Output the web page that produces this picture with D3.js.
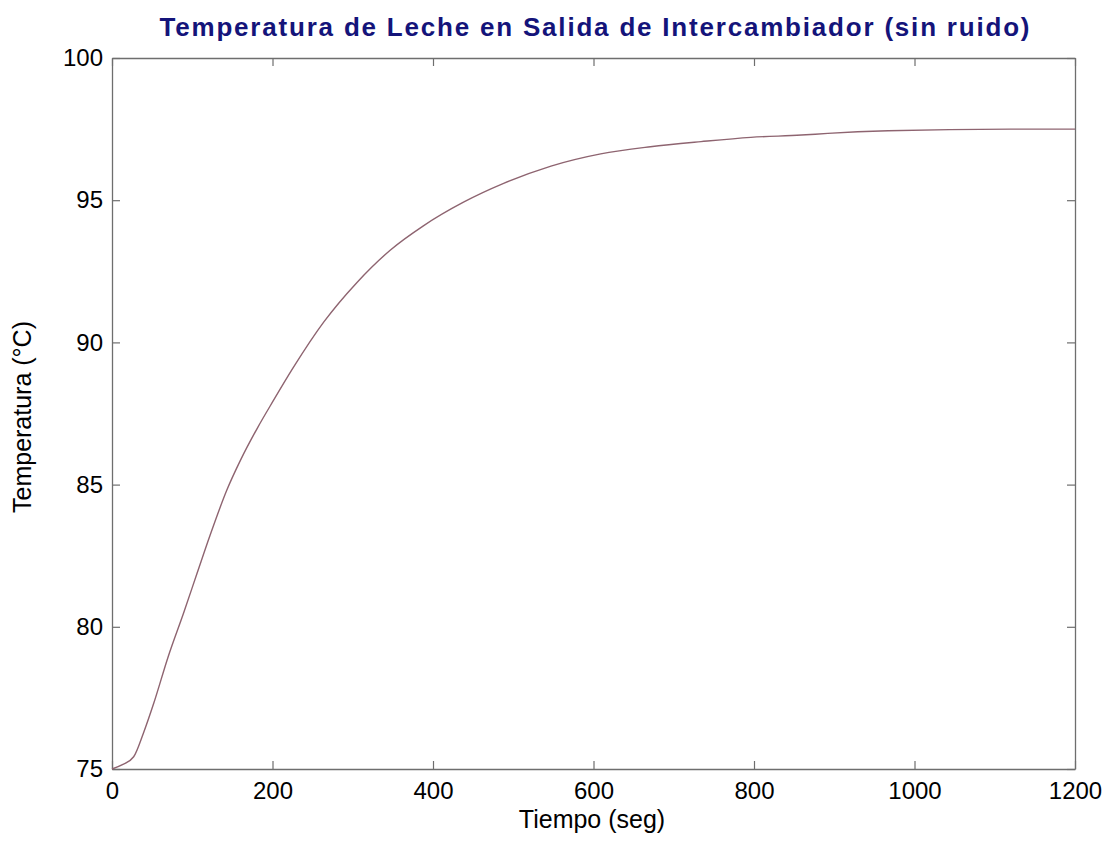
<!DOCTYPE html>
<html>
<head>
<meta charset="utf-8">
<script src="https://cdn.jsdelivr.net/npm/d3@7"></script>
<style>
  body { margin: 0; background: #fff; }
  svg text { font-family: Arial, "Liberation Sans", sans-serif; }
</style>
</head>
<body>
<div id="chart"></div>
<script>
"use strict";

/* ── Data ── */
const tiempo = [0, 13, 27, 39, 52, 70, 89, 106, 122, 143, 160, 181, 201, 226, 264,
                305, 347, 388, 438, 488, 547, 609, 671, 734, 796, 859, 892, 967, 1120, 1200];
const temperatura = [75, 75.15, 75.43, 76.25, 77.31, 78.95, 80.47, 81.88, 83.2, 84.8,
                     85.85, 86.98, 87.95, 89.12, 90.72, 92.1, 93.25, 94.1, 94.93, 95.59,
                     96.2, 96.63, 96.88, 97.06, 97.21, 97.29, 97.35, 97.44, 97.5, 97.5];
const xTicks = [0, 200, 400, 600, 800, 1000, 1200];
const yTicks = [75, 80, 85, 90, 95, 100];

/* ── Dimensions ── */
const W = 1111, H = 846;
const plot = { left: 112, right: 1075, top: 58, bottom: 769 };

const svg = d3.select("#chart").append("svg")
  .attr("width", W).attr("height", H);

const x = d3.scaleLinear().domain([0, 1200]).range([plot.left, plot.right]);
const y = d3.scaleLinear().domain([75, 100]).range([plot.bottom, plot.top]);

const axisColour = "#6e6e6e";
const tickLen = 8;

/* ── Axes (MATLAB style box with inward ticks) ── */
const gBottom = svg.append("g")
  .attr("transform", `translate(0,${plot.bottom})`)
  .call(d3.axisBottom(x).tickValues(xTicks).tickFormat(d3.format("d"))
    .tickSizeInner(-tickLen).tickSizeOuter(0).tickPadding(13));
const gLeft = svg.append("g")
  .attr("transform", `translate(${plot.left},0)`)
  .call(d3.axisLeft(y).tickValues(yTicks).tickFormat(d3.format("d"))
    .tickSizeInner(-tickLen).tickSizeOuter(0).tickPadding(9));
const gTop = svg.append("g")
  .attr("transform", `translate(0,${plot.top})`)
  .call(d3.axisTop(x).tickValues(xTicks).tickSizeInner(-tickLen).tickSizeOuter(0).tickFormat(""));
const gRight = svg.append("g")
  .attr("transform", `translate(${plot.right},0)`)
  .call(d3.axisRight(y).tickValues(yTicks).tickSizeInner(-tickLen).tickSizeOuter(0).tickFormat(""));

[gBottom, gLeft, gTop, gRight].forEach(g => {
  g.select(".domain").attr("stroke", axisColour).attr("stroke-width", 1.3);
  g.selectAll(".tick line").attr("stroke", axisColour).attr("stroke-width", 1.2);
  g.selectAll(".tick text")
    .attr("fill", "#000")
    .attr("font-size", "24px")
    .attr("font-family", "Arial, 'Liberation Sans', sans-serif");
});

/* ── Curve ── */
const line = d3.line()
  .x((d, i) => x(tiempo[i]))
  .y(d => y(d))
  .curve(d3.curveMonotoneX);

svg.append("path")
  .datum(temperatura)
  .attr("fill", "none")
  .attr("stroke", "#8e6470")
  .attr("stroke-width", 1.4)
  .attr("d", line);

/* ── Labels ── */
svg.append("text")
  .attr("x", (plot.left + plot.right) / 2 + 1)
  .attr("y", 36)
  .attr("text-anchor", "middle")
  .attr("fill", "#14147a")
  .attr("font-size", "26px")
  .attr("font-weight", "bold")
  .attr("textLength", 870)
  .attr("lengthAdjust", "spacing")
  .text("Temperatura de Leche en Salida de Intercambiador (sin ruido)");

svg.append("text")
  .attr("x", 592)
  .attr("y", 828)
  .attr("text-anchor", "middle")
  .attr("fill", "#000")
  .attr("font-size", "25px")
  .text("Tiempo (seg)");

svg.append("text")
  .attr("transform", `translate(31,${417}) rotate(-90)`)
  .attr("text-anchor", "middle")
  .attr("fill", "#000")
  .attr("font-size", "25px")
  .text("Temperatura (°C)");
</script>
</body>
</html>
